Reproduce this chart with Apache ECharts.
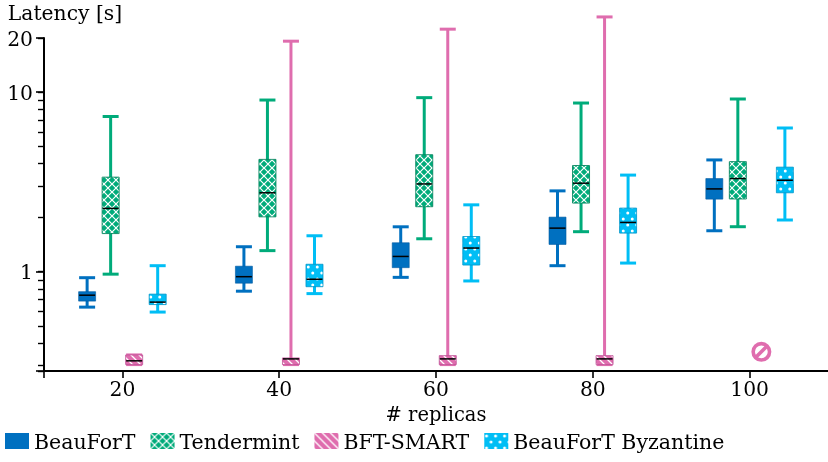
<!DOCTYPE html>
<html>
<head>
<meta charset="utf-8">
<style>html,body{margin:0;padding:0;background:#fff}#c{width:828px;height:462px}</style>
<script src="https://cdn.jsdelivr.net/npm/echarts@6/dist/echarts.min.js"></script>
</head>
<body>
<div id="c"></div>
<script>
const replicas = [20, 40, 60, 80, 100];

const beaufortHigh = [0.926, 1.377, 1.778, 2.818, 4.19];
const beaufortQ3   = [0.774, 1.073, 1.449, 2.013, 3.30];
const beaufortMed  = [0.740, 0.938, 1.216, 1.748, 2.89];
const beaufortQ1   = [0.686, 0.863, 1.053, 1.418, 2.535];
const beaufortLow  = [0.635, 0.779, 0.930, 1.080, 1.69];

const tendermintHigh = [7.31, 9.03, 9.31, 8.69, 9.15];
const tendermintQ3   = [3.36, 4.22, 4.48, 3.90, 4.10];
const tendermintMed  = [2.25, 2.75, 3.08, 3.11, 3.30];
const tendermintQ1   = [1.63, 2.02, 2.30, 2.41, 2.54];
const tendermintLow  = [0.969, 1.31, 1.525, 1.67, 1.78];

const bftHigh = [0.344, 19.2, 22.4, 26.2, null];
const bftQ3   = [0.344, 0.331, 0.341, 0.341, null];
const bftMed  = [0.319, 0.327, 0.327, 0.327, null];
const bftQ1   = [0.304, 0.304, 0.304, 0.304, null];
const bftLow  = [0.304, 0.304, 0.304, 0.304, null];
const bftNoResultReplicas = [100];
const bftNoResultLevel = [0.358];

const byzHigh = [1.08, 1.585, 2.356, 3.45, 6.31];
const byzQ3   = [0.75, 1.10, 1.57, 2.26, 3.82];
const byzMed  = [0.677, 0.908, 1.354, 1.88, 3.23];
const byzQ1   = [0.656, 0.825, 1.089, 1.64, 2.75];
const byzLow  = [0.596, 0.755, 0.888, 1.117, 1.94];

const xLabelValues = [20, 40, 60, 80, 100];
const xTickValues = [10, 20, 40, 60, 80, 100];
const yLabelValues = [1, 10, 20];
const yMajorTicks = [0.28, 1, 10, 20];
const yAllTicks = [0.28, 0.3, 0.4, 0.5, 0.6, 0.7, 0.8, 0.9, 1, 2, 3, 4, 5, 6, 7, 8, 9, 10, 20];

const FONT = '"DejaVu Serif"';
const INK = '#000000';
const BOX_W = 17, CAP_W = 16, WHISK = 3;
const X_MIN = 10, X_MAX = 110, Y_MIN = 0.28, Y_MAX = 20;

function tile(w, h, draw) {
  const cv = document.createElement('canvas');
  cv.width = w; cv.height = h;
  draw(cv.getContext('2d'), w, h);
  return { image: cv, repeat: 'repeat' };
}
const BLUE = '#0070c0', GREEN = '#00ab7a', PINK = '#df6dae', SKY = '#00bef5';

const solidBlue = BLUE;
const hatchGreen = tile(8, 8, (c, w, h) => {
  c.fillStyle = GREEN; c.fillRect(0, 0, w, h);
  c.strokeStyle = '#fff'; c.lineWidth = 1.2;
  c.beginPath();
  c.moveTo(-1, -1); c.lineTo(9, 9);
  c.moveTo(-1, 9); c.lineTo(9, -1);
  c.stroke();
});
const hatchPink = tile(8, 8, (c, w, h) => {
  c.fillStyle = PINK; c.fillRect(0, 0, w, h);
  c.strokeStyle = '#fff'; c.lineWidth = 1.3;
  c.beginPath();
  c.moveTo(-1, -1); c.lineTo(9, 9);
  c.moveTo(-5, 3); c.lineTo(5, 13);
  c.moveTo(3, -5); c.lineTo(13, 5);
  c.stroke();
});
const dotsSky = tile(9, 12, (c, w, h) => {
  c.fillStyle = SKY; c.fillRect(0, 0, w, h);
  c.fillStyle = '#fff';
  c.beginPath(); c.arc(2.25, 3, 1.5, 0, 7); c.fill();
  c.beginPath(); c.arc(6.75, 9, 1.5, 0, 7); c.fill();
});

function rows(offset, low, q1, med, q3, high) {
  return replicas.map((r, i) => [r + offset, low[i], q1[i], med[i], q3[i], high[i]])
    .filter(row => row[3] !== null);
}

function boxRenderer(color, fill, edge) {
  return function (params, api) {
    const x = api.value(0);
    const pt = k => api.coord([x, api.value(k)]);
    const low = pt(1), q1 = pt(2), med = pt(3), q3 = pt(4), high = pt(5);
    const cx = low[0];
    const line = (x1, y1, x2, y2, lw, col) => ({
      type: 'line',
      shape: { x1, y1, x2, y2 },
      style: { stroke: col, lineWidth: lw, fill: null }
    });
    return {
      type: 'group',
      children: [
        line(cx, high[1], cx, low[1], WHISK, color),
        line(cx - CAP_W / 2, high[1], cx + CAP_W / 2, high[1], WHISK, color),
        line(cx - CAP_W / 2, low[1], cx + CAP_W / 2, low[1], WHISK, color),
        {
          type: 'rect',
          shape: { x: cx - BOX_W / 2, y: q3[1], width: BOX_W, height: q1[1] - q3[1] },
          style: { fill: fill, stroke: edge, lineWidth: 1 }
        },
        line(cx - BOX_W / 2 + 0.5, med[1], cx + BOX_W / 2 - 0.5, med[1], 1.5, INK)
      ]
    };
  };
}

function boxSeries(name, offset, color, fill, edge, arrs) {
  return {
    name, type: 'custom',
    coordinateSystem: 'cartesian2d',
    renderItem: boxRenderer(color, fill, edge),
    encode: { x: 0, y: [1, 2, 3, 4, 5] },
    itemStyle: { color: fill },
    data: rows(offset, ...arrs),
    silent: true,
    z: 3
  };
}

const plotRect = { left: 44, top: 38, width: 786, height: 333 };

const chart = echarts.init(document.getElementById('c'), null, { renderer: 'canvas' });
chart.setOption({
  animation: false,
  backgroundColor: '#fff',
  grid: [plotRect, plotRect],
  legend: {
    left: 0, top: 428,
    icon: 'rect',
    itemWidth: 24, itemHeight: 16, itemGap: 15,
    selectedMode: false,
    formatter: '{a|{name}}',
    textStyle: {
      fontFamily: FONT, fontSize: 20.5, color: INK,
      rich: { a: { fontFamily: FONT, fontSize: 20.5, color: INK, padding: [5, 0, 0, 0] } }
    },
    data: ['BeauForT', 'Tendermint', 'BFT-SMART', 'BeauForT Byzantine']
  },
  xAxis: [{
    type: 'value', min: X_MIN, max: X_MAX,
    name: '# replicas', nameLocation: 'middle', nameGap: 35,
    nameTextStyle: { fontFamily: FONT, fontSize: 19.5, color: INK },
    splitLine: { show: false },
    axisLine: { show: true, onZero: false, lineStyle: { color: INK, width: 2 } },
    axisTick: { show: true, customValues: xTickValues, length: 7, lineStyle: { color: INK, width: 1.6 } },
    axisLabel: { customValues: xLabelValues, margin: 10, fontFamily: FONT, fontSize: 20.3, color: INK }
  }, {
    gridIndex: 1, type: 'value', min: X_MIN, max: X_MAX, show: false
  }],
  yAxis: [{
    type: 'log', logBase: 10, min: Y_MIN, max: Y_MAX,
    name: 'Latency [s]', nameLocation: 'end', nameGap: 13,
    nameTextStyle: { fontFamily: FONT, fontSize: 20.3, color: INK, align: 'center', padding: [0, 0, 0, 42] },
    splitLine: { show: false },
    axisLine: { show: true, onZero: false, lineStyle: { color: INK, width: 2 } },
    axisTick: { show: true, customValues: yAllTicks, length: 6, lineStyle: { color: INK, width: 1.4 } },
    axisLabel: {
      customValues: yLabelValues, margin: 11, fontFamily: FONT, fontSize: 20.3, color: INK,
      formatter: '{a|{value}}',
      rich: { a: { fontFamily: FONT, fontSize: 20.3, color: INK, padding: [5, 0, 0, 0] } }
    }
  }, {
    gridIndex: 1, type: 'log', logBase: 10, min: Y_MIN, max: Y_MAX,
    splitLine: { show: false },
    axisLine: { show: false, onZero: false },
    axisTick: { show: true, customValues: yMajorTicks, length: 8, lineStyle: { color: INK, width: 1.6 } },
    axisLabel: { show: false }
  }],
  series: [
    boxSeries('BeauForT', -4.5, BLUE, solidBlue, 'rgba(0,90,160,0.6)',
      [beaufortLow, beaufortQ1, beaufortMed, beaufortQ3, beaufortHigh]),
    boxSeries('Tendermint', -1.5, GREEN, hatchGreen, 'rgba(0,130,90,0.85)',
      [tendermintLow, tendermintQ1, tendermintMed, tendermintQ3, tendermintHigh]),
    boxSeries('BFT-SMART', 1.5, PINK, hatchPink, 'rgba(190,80,150,0.8)',
      [bftLow, bftQ1, bftMed, bftQ3, bftHigh]),
    boxSeries('BeauForT Byzantine', 4.5, SKY, dotsSky, 'rgba(0,150,200,0.8)',
      [byzLow, byzQ1, byzMed, byzQ3, byzHigh]),
    {
      name: 'no result', type: 'custom',
      coordinateSystem: 'cartesian2d',
      encode: { x: 0, y: 1 },
      silent: true,
      z: 3,
      data: bftNoResultReplicas.map((r, i) => [r + 1.5, bftNoResultLevel[i]]),
      renderItem(params, api) {
        const p = api.coord([api.value(0), api.value(1)]);
        const R = 8.2;
        return {
          type: 'group',
          children: [
            { type: 'circle', shape: { cx: p[0], cy: p[1], r: R },
              style: { fill: null, stroke: PINK, lineWidth: 3.6 } },
            { type: 'line', shape: { x1: p[0] - R * 0.7, y1: p[1] + R * 0.7, x2: p[0] + R * 0.7, y2: p[1] - R * 0.7 },
              style: { stroke: PINK, lineWidth: 3.6 } }
          ]
        };
      }
    }
  ]
});
</script>
</body>
</html>
